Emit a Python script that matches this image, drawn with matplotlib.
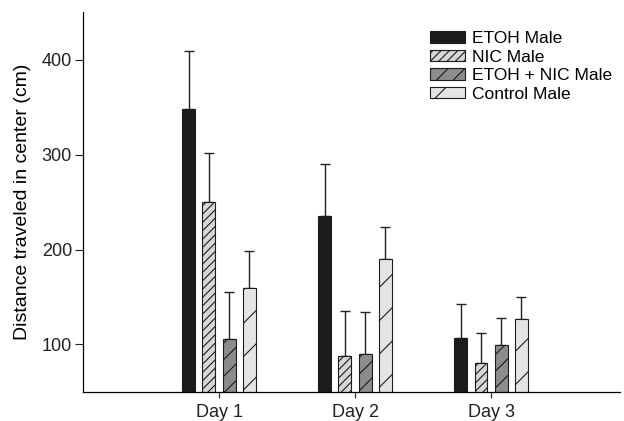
import numpy as np
import matplotlib.pyplot as plt

plt.rcParams['font.family'] = ['Liberation Sans', 'DejaVu Sans']
plt.rcParams['hatch.linewidth'] = 0.8

days = ['Day 1', 'Day 2', 'Day 3']
groups = ['ETOH Male', 'NIC Male', 'ETOH + NIC Male', 'Control Male']

means = {
    'ETOH Male': [348, 235, 107],
    'NIC Male': [250, 88, 80],
    'ETOH + NIC Male': [106, 90, 99],
    'Control Male': [160, 190, 127],
}
sem = {
    'ETOH Male': [61, 55, 36],
    'NIC Male': [52, 47, 32],
    'ETOH + NIC Male': [49, 44, 29],
    'Control Male': [38, 34, 23],
}

colors = ['#1c1c1c', '#d6d6d6', '#8c8c8c', '#e4e4e4']
hatches = ['', '////', '//', '/']

x = np.arange(1, len(days) + 1)
width = 0.095
step = 0.148

fig = plt.figure(figsize=(6.24, 4.21), dpi=100)
ax = fig.add_axes([0.133, 0.069, 0.861, 0.902])

for i, g in enumerate(groups):
    pos = x + (i - 1.5) * step
    vals = np.array(means[g])
    err = np.array(sem[g])
    ax.bar(pos, vals, width, color=colors[i], edgecolor='#1c1c1c',
           linewidth=0.8, hatch=hatches[i], label=g, zorder=2)
    ax.errorbar(pos, vals, yerr=[np.zeros_like(err), err], fmt='none',
                ecolor='#222222', elinewidth=1.0, capsize=3.5,
                capthick=1.0, zorder=1)

ax.set_xlim(0, 3.95)
ax.set_ylim(50, 450)
ax.set_yticks([100, 200, 300, 400])
ax.set_xticks(x)
ax.set_xticklabels(days)
ax.set_ylabel('Distance traveled in center (cm)', fontsize=14, labelpad=8)
ax.tick_params(axis='both', labelsize=13, direction='out', width=0.8,
               colors='#222222')
ax.tick_params(axis='y', length=6, pad=2)
ax.tick_params(axis='x', length=4, pad=5)

for s in ['top', 'right']:
    ax.spines[s].set_visible(False)
for s in ['left', 'bottom']:
    ax.spines[s].set_linewidth(0.9)

fig.legend(loc='upper left', bbox_to_anchor=(0.689, 0.926),
           bbox_transform=fig.transFigure, frameon=False,
           fontsize=12.5, handlelength=2.0, handleheight=0.66,
           labelspacing=0.2, handletextpad=0.45, borderpad=0,
           borderaxespad=0)

fig.savefig('out.png', dpi=100)
